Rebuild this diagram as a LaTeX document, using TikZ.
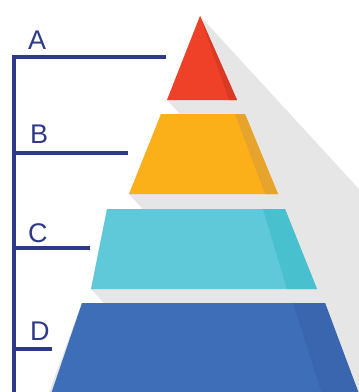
\documentclass[tikz,border=0pt]{standalone}
\usepackage{fontspec}
\setmainfont{Liberation Sans}
\definecolor{navy}{HTML}{2E3A87}
\definecolor{shadowgray}{HTML}{E6E6E6}
\definecolor{redA}{HTML}{EE4127}
\definecolor{redAd}{HTML}{D83A26}
\definecolor{yelB}{HTML}{FBB01A}
\definecolor{yelBd}{HTML}{E7A42C}
\definecolor{cyaC}{HTML}{5FC9D9}
\definecolor{cyaCd}{HTML}{48C0CE}
\definecolor{bluD}{HTML}{3E6EB8}
\definecolor{bluDd}{HTML}{3A66AF}
\begin{document}
\begin{tikzpicture}[x=1pt,y=-1pt,
  bracket/.style={draw=navy,line width=3.5pt},
  lbl/.style={anchor=base west,inner sep=0pt,text=navy,font=\fontsize{27}{27}\selectfont}]
\useasboundingbox (0,0) rectangle (359,392);
\fill[white] (0,0) rectangle (359,392);
\begin{scope}
\clip (0,0) rectangle (359,392);
% long shadow
\fill[shadowgray] (200,16) -- ++(790,860) -- (167+790,100+860) -- (167,100) -- cycle;
\fill[shadowgray] (161,114) -- (245,114) -- ++(790,860) -- (129+790,194+860) -- (129,194) -- cycle;
\fill[shadowgray] (107,209) -- (285,209) -- ++(790,860) -- (91+790,289+860) -- (91,289) -- cycle;
\fill[shadowgray] (82,303) -- (325,303) -- ++(790,860) -- (49+790,392+860) -- (49,392) -- cycle;
% layers
\fill[redA] (200,16) -- (237,100) -- (167,100) -- cycle;
\fill[redAd] (200,16) -- (237,100) -- (229,100) -- cycle;
\fill[yelB] (161,114) -- (245,114) -- (278,194) -- (129,194) -- cycle;
\fill[yelBd] (235,114) -- (245,114) -- (278,194) -- (265,194) -- cycle;
\fill[cyaC] (107,209) -- (285,209) -- (317,289) -- (91,289) -- cycle;
\fill[cyaCd] (263,209) -- (285,209) -- (317,289) -- (287,289) -- cycle;
\fill[bluD] (82,303) -- (325,303) -- (359,394) -- (51,394) -- cycle;
\fill[bluDd] (293,303) -- (325,303) -- (359,394) -- (322,394) -- cycle;
\end{scope}
% bracket
\coordinate (aend) at (166,57);
\coordinate (corner) at (14,57);
\coordinate (bottom) at (14,394);
\coordinate (bstart) at (14,153);
\coordinate (bend) at (128,153);
\coordinate (cstart) at (14,248);
\coordinate (cend) at (90,248);
\coordinate (dstart) at (14,349);
\coordinate (dend) at (52,349);
\draw[bracket] (aend) -- (corner) -- (bottom);
\draw[bracket] (bstart) -- (bend);
\draw[bracket] (cstart) -- (cend);
\draw[bracket] (dstart) -- (dend);
% labels
\node[lbl] (la) at (28,49) {A};
\node[lbl] (lb) at (30,143) {B};
\node[lbl] (lc) at (28,242) {C};
\node[lbl] (ld) at (30,340) {D};
\end{tikzpicture}
\end{document}
